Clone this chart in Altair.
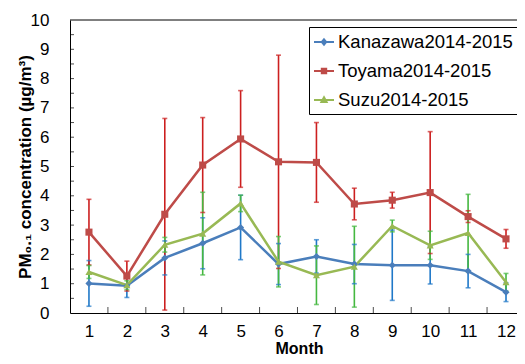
import altair as alt
import pandas as pd

months = [1, 2, 3, 4, 5, 6, 7, 8, 9, 10, 11, 12]
series_names = ["Kanazawa2014-2015", "Toyama2014-2015", "Suzu2014-2015"]

kanazawa_mean = [1.01, 0.93, 1.88, 2.38, 2.92, 1.67, 1.93, 1.67, 1.63, 1.63, 1.43, 0.71]
kanazawa_err = [0.78, 0.40, 0.58, 0.87, 1.10, 0.70, 0.57, 0.67, 1.20, 0.64, 0.57, 0.32]
toyama_mean = [2.76, 1.26, 3.37, 5.05, 5.94, 5.16, 5.14, 3.72, 3.85, 4.11, 3.29, 2.53]
toyama_err = [1.12, 0.51, 3.27, 1.62, 1.65, 3.64, 1.36, 0.54, 0.27, 2.08, 0.20, 0.32]
suzu_mean = [1.40, 0.95, 2.33, 2.71, 3.74, 1.75, 1.29, 1.58, 2.97, 2.31, 2.73, 1.05]
suzu_err = [0.22, 0.15, 0.25, 1.41, 0.28, 0.86, 1.00, 1.38, 0.20, 0.48, 1.32, 0.30]

line_colors = ["#4A7EBB", "#BE4B48", "#98B954"]
err_colors = ["#1F78C8", "#CC1F1F", "#45B840"]
shapes = ["diamond", "square", "triangle-up"]

x_ticks_pos = [1.5, 2.5, 3.5, 4.5, 5.5, 6.5, 7.5, 8.5, 9.5, 10.5, 11.5]
y_ticks_pos = [0.5, 1, 1.5, 2, 2.5, 3, 3.5, 4, 4.5, 5, 5.5, 6, 6.5, 7, 7.5, 8, 8.5, 9, 9.5]

FONT = "Liberation Sans"

rows, err_rows, cap_rows = [], [], []
for name, means, errs in zip(series_names,
                             [kanazawa_mean, toyama_mean, suzu_mean],
                             [kanazawa_err, toyama_err, suzu_err]):
    for m, v, e in zip(months, means, errs):
        rows.append({"series": name, "month": m, "val": v})
        err_rows.append({"series": name, "month": m, "val": max(v - e, 0), "val2": v + e})
        cap_rows.append({"series": name, "month": m, "val": max(v - e, 0)})
        cap_rows.append({"series": name, "month": m, "val": v + e})

df_line = pd.DataFrame(rows)
df_err = pd.DataFrame(err_rows)
df_cap = pd.DataFrame(cap_rows)
df_xt = pd.DataFrame({"month": x_ticks_pos})
df_yt = pd.DataFrame({"val": y_ticks_pos})

W, H = 447, 293

xs = alt.Scale(domain=[0.5, 12.29], nice=False, zero=False)
ys = alt.Scale(domain=[0, 10], nice=False)
xa = alt.Axis(values=months, ticks=False, grid=False, domainColor="black", domainWidth=1,
              labelFont=FONT, labelFontSize=17, labelColor="black", labelPadding=10,
              labelFlush=False, title="Month", titleFont=FONT, titleFontSize=16,
              titleFontWeight="bold", titleColor="black", titleX=229, titleY=40,
              titleBaseline="alphabetic")
ya = alt.Axis(values=list(range(11)), ticks=False, grid=False, domainColor="black", domainWidth=1,
              labelFont=FONT, labelFontSize=17, labelColor="black", labelPadding=21,
              title="PM₀.₁ concentration (µg/m³)", titleFont=FONT, titleFontSize=17,
              titleFontWeight="bold", titleColor="black", titleX=-45, titleY=H / 2,
              titleAngle=-90, titleBaseline="middle", titleAlign="center")

X = alt.X("month:Q", scale=xs, axis=xa)
Y = alt.Y("val:Q", scale=ys, axis=ya)

col_expr = ("datum.value === '%s' ? '%s' : datum.value === '%s' ? '%s' : '%s'"
            % (series_names[0], line_colors[0], series_names[1], line_colors[1], line_colors[2]))

shape_expr = ("datum.value === '%s' ? 'M-1,0L1,0M0,-0.27L0.22,0L0,0.27L-0.22,0Z' : "
              "datum.value === '%s' ? 'M-1,0L1,0M-0.22,-0.22L0.22,-0.22L0.22,0.22L-0.22,0.22Z' : "
              "'M-1,0L1,0M0,-0.27L0.26,0.2L-0.26,0.2Z'") % (series_names[0], series_names[1])

legend = alt.Legend(
    title=None, orient="none", legendX=239, legendY=7, padding=4, rowPadding=8,
    labelOffset=3, symbolSize=400, symbolStrokeWidth=2, strokeColor="black",
    fillColor="white", labelFont=FONT, labelFontSize=18.5, labelColor="black",
    labelLimit=400, cornerRadius=0, symbolOpacity=1,
    symbolType=alt.ExprRef(shape_expr),
    symbolFillColor=alt.ExprRef(col_expr),
    symbolStrokeColor=alt.ExprRef(col_expr),
)

color_main = alt.Color("series:N", scale=alt.Scale(domain=series_names, range=line_colors),
                       legend=legend)
color_err = alt.Color("series:N", scale=alt.Scale(domain=series_names, range=err_colors),
                      legend=None)

err_rules = alt.Chart(df_err).mark_rule(strokeWidth=1.6).encode(
    x=X, y=Y, y2="val2:Q", color=color_err)
err_caps = alt.Chart(df_cap).mark_tick(orient="horizontal", size=5, thickness=1.6).encode(
    x=X, y=Y, color=color_err)
err_layer = alt.layer(err_rules, err_caps)

lines = alt.Chart(df_line).mark_line(strokeWidth=2.5).encode(x=X, y=Y, color=color_main)
points = alt.Chart(df_line).mark_point(filled=True, opacity=1, size=50).encode(
    x=X, y=Y, color=color_main,
    shape=alt.Shape("series:N", scale=alt.Scale(domain=series_names, range=shapes), legend=None))
main_layer = alt.layer(lines, points)

xticks = alt.Chart(df_xt).mark_tick(orient="vertical", size=6, thickness=1, color="black").encode(
    x=X, y=alt.value(H - 3))
yticks = alt.Chart(df_yt).mark_tick(orient="horizontal", size=4, thickness=1, color="black").encode(
    x=alt.value(2), y=Y)
top_border = alt.Chart(alt.Data(values=[{"a": 1}])).mark_rule(color="black", strokeWidth=1).encode(
    y=alt.value(0))

chart = alt.layer(err_layer, main_layer, xticks, yticks, top_border).resolve_scale(
    color="independent"
).properties(
    width=W, height=H,
    autosize=alt.AutoSizeParams(type="none"),
    padding={"left": 62, "top": 12, "right": 0, "bottom": 43},
    background="white",
).configure_view(stroke=None)

chart.save("out.html", embed_options={"renderer": "svg", "actions": False})
